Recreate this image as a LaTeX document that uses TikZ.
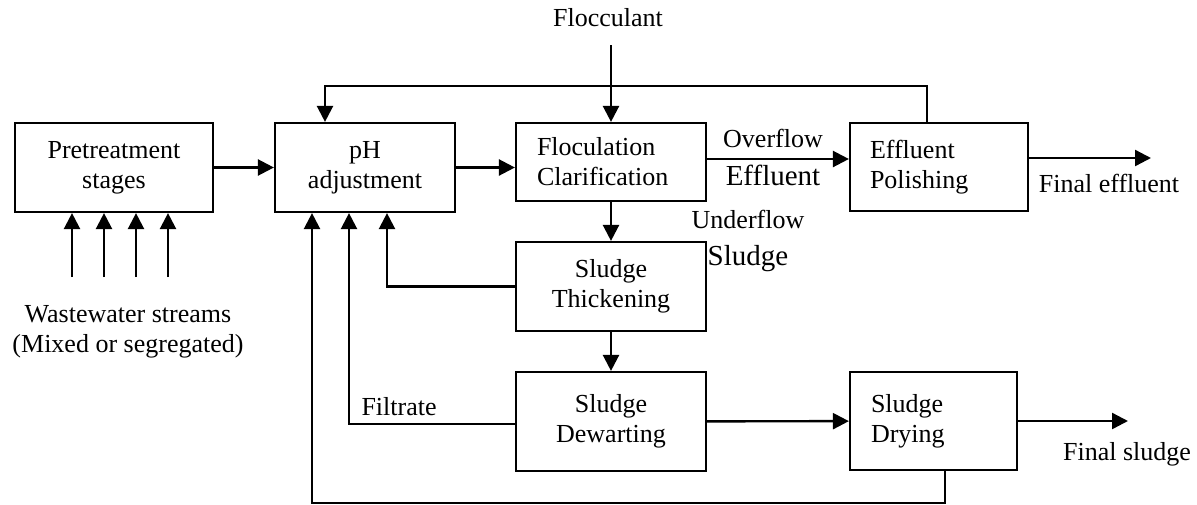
\documentclass[tikz,border=0pt]{standalone}
\usepackage{fontspec}
\setmainfont{Liberation Serif}
\usetikzlibrary{arrows.meta, positioning}

\begin{document}
\begin{tikzpicture}[x=1pt, y=-1pt,
    font=\fontsize{26}{30}\selectfont,
    box/.style={draw, line width=2.2pt, inner sep=0pt, align=center},
    lbox/.style={draw, line width=2.2pt, inner ysep=0pt, align=left},
    arr/.style={line width=2.4pt, -{Triangle[length=16pt, width=16pt]}},
    big/.style={font=\fontsize{29}{33}\selectfont}]
    \useasboundingbox (0,0) rectangle (1197,504);

    % Nodes
    \node[box, minimum width=198, minimum height=89] (pretreat) at (114,167.5) {Pretreatment\\stages};
    \node[box, minimum width=180, minimum height=89] (ph) at (365,167.5) {pH\\adjustment};
    \node[lbox, text width=148, inner xsep=21, minimum height=78] (floc) at (611,162) {Floculation\\Clarification};
    \node[lbox, text width=138, inner xsep=20, minimum height=88] (eff) at (939,167) {Effluent\\Polishing};
    \node[box, minimum width=190, minimum height=89] (thick) at (611,286.5) {Sludge\\Thickening};
    \node[box, minimum width=190, minimum height=99] (dewart) at (611,421.5) {Sludge\\Dewarting};
    \node[lbox, text width=125, inner xsep=21, minimum height=98] (dry) at (933.5,421) {Sludge\\Drying};

    % Labels
    \node (flocc) at (608,18) {Flocculant};
    \node[align=center] (waste) at (128,332) {Wastewater streams\\(Mixed or segregated)};
    \node[anchor=base] (over) at (773,147) {Overflow};
    \node[anchor=base, big] (efflab) at (773,185) {Effluent};
    \node[anchor=base] (under) at (748,228) {Underflow};
    \node[anchor=base, big] (sludlab) at (748,265) {Sludge};
    \node[anchor=base west] (filt) at (358,415) {Filtrate};
    \node[anchor=base] (feff) at (1109,192) {Final effluent};
    \node[anchor=base] (fsl) at (1127,460) {Final sludge};

    % Free ends
    \coordinate (flocin) at (611,45);
    \coordinate (toploop) at (325,86);
    \coordinate (effout) at (1151,158);
    \coordinate (slout) at (1128,421);
    \coordinate (botloop) at (945,503);

    % Wastewater streams
    \foreach \x [count=\i] in {72,104,136,168} {
        \coordinate (ws\i) at (\x,277);
        \draw[arr] (ws\i) -- (ws\i |- pretreat.south);
    }

    % Connections
    \draw[arr] (pretreat) -- (ph);
    \draw[arr] (ph.east) -- (ph.east -| floc.west);
    \draw[arr] (flocin) -- (floc);
    \draw[arr] ([yshift=3]floc.east) -- ([yshift=3]floc.east -| eff.west);
    \draw[arr] (eff.east |- effout) -- (effout);
    \draw[arr] ([xshift=-12]eff.north) |- (toploop) -- (toploop |- ph.north);
    \draw[arr] (floc) -- (thick);
    \draw[arr] (thick.west) -| ([xshift=22]ph.south);
    \draw[arr] (thick) -- (dewart);
    \draw[arr] ([yshift=-2.5]dewart.west) -| ([xshift=-16]ph.south);
    \draw[arr] (dewart) -- (dry);
    \draw[arr] (dry.east |- slout) -- (slout);
    \draw[arr] (botloop |- dry.south) -- (botloop) -| ([xshift=-53]ph.south);

\end{tikzpicture}
\end{document}
